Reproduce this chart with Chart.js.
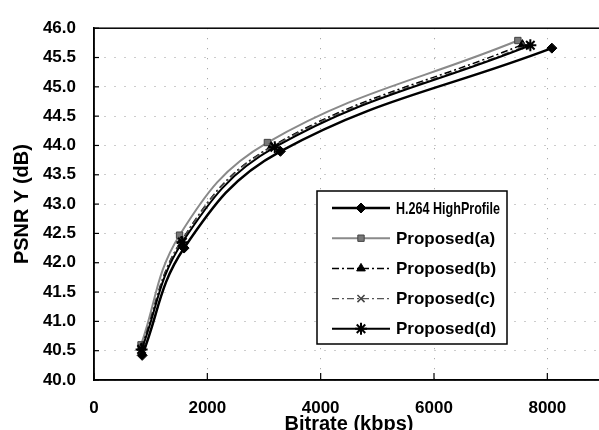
<!DOCTYPE html>
<html>
<head>
<meta charset="utf-8">
<script src="https://cdn.jsdelivr.net/npm/chart.js@4/dist/chart.umd.min.js"></script>
<style>
  html, body { margin: 0; padding: 0; background: #fff; overflow: hidden; }
  #wrap { width: 599px; height: 430px; overflow: hidden; }
</style>
</head>
<body>
<div id="wrap"><canvas id="chart" width="612" height="436"></canvas></div>
<script>
var seriesNames = ['H.264 HighProfile', 'Proposed(a)', 'Proposed(b)', 'Proposed(c)', 'Proposed(d)'];
var xTickValues = [0, 2000, 4000, 6000, 8000];

var bitrateH264 = [850, 1590, 3290, 8080];
var psnrH264 = [40.42, 42.25, 43.90, 45.66];

var bitrateA = [830, 1510, 3060, 7480];
var psnrA = [40.60, 42.47, 44.05, 45.79];

var bitrateB = [835, 1540, 3130, 7560];
var psnrB = [40.55, 42.37, 43.98, 45.72];

var bitrateC = [840, 1550, 3150, 7620];
var psnrC = [40.55, 42.38, 43.98, 45.70];

var bitrateD = [840, 1560, 3190, 7700];
var psnrD = [40.52, 42.35, 43.97, 45.71];

var FONT = "'Liberation Sans', Arial, sans-serif";

function toPoints(xs, ys) {
    return xs.map(function (x, i) { return { x: x, y: ys[i] }; });
}

var styles = [
    { color: '#000', width: 2.5, dash: [], point: 'rectRot', radius: 5, bg: '#000', pb: '#000', pw: 1 },
    { color: '#8a8a8a', width: 2, dash: [], point: 'rect', radius: 4.5, bg: '#777', pb: '#444', pw: 1 },
    { color: '#000', width: 1.5, dash: [7, 3, 2, 3], point: 'triangle', radius: 5, bg: '#000', pb: '#000', pw: 1 },
    { color: '#555', width: 1.2, dash: [7, 3, 2, 3], point: 'crossRot', radius: 5, bg: '#555', pb: '#444', pw: 1.5 },
    { color: '#000', width: 2, dash: [], point: 'star', radius: 6, bg: '#000', pb: '#000', pw: 2 }
];

var seriesData = [
    toPoints(bitrateH264, psnrH264),
    toPoints(bitrateA, psnrA),
    toPoints(bitrateB, psnrB),
    toPoints(bitrateC, psnrC),
    toPoints(bitrateD, psnrD)
];

var datasets = seriesNames.map(function (name, i) {
    var s = styles[i];
    return {
        label: name,
        data: seriesData[i],
        showLine: true,
        tension: 0.4,
        borderColor: s.color,
        borderWidth: s.width,
        borderDash: s.dash,
        pointStyle: s.point,
        pointRadius: s.radius,
        pointBackgroundColor: s.bg,
        pointBorderColor: s.pb,
        pointBorderWidth: s.pw,
        order: 5 - i
    };
});

// frame, inward tick marks and the boxed legend
var framePlugin = {
    id: 'frame',
    afterDraw: function (chart) {
        var ctx = chart.ctx, a = chart.chartArea;
        var xs = chart.scales.x, ys = chart.scales.y;
        ctx.save();
        ctx.strokeStyle = '#000';
        ctx.lineWidth = 1.5;
        ctx.strokeRect(a.left, a.top, a.right - a.left, a.bottom - a.top);
        ctx.lineWidth = 1.2;
        ys.ticks.forEach(function (t) {
            var py = ys.getPixelForValue(t.value);
            ctx.beginPath(); ctx.moveTo(a.left, py); ctx.lineTo(a.left + 5, py); ctx.stroke();
        });
        xs.ticks.forEach(function (t) {
            var px = xs.getPixelForValue(t.value);
            ctx.beginPath(); ctx.moveTo(px, a.bottom); ctx.lineTo(px, a.bottom - 7); ctx.stroke();
        });

        // legend
        var lx = 317, ly = 191, lw = 190, lh = 153;
        ctx.fillStyle = '#fff';
        ctx.fillRect(lx, ly, lw, lh);
        ctx.lineWidth = 1.5;
        ctx.strokeStyle = '#000';
        ctx.strokeRect(lx, ly, lw, lh);
        ctx.font = 'bold 17px ' + FONT;
        ctx.textBaseline = 'middle';
        chart.data.datasets.forEach(function (ds, i) {
            var y = 208 + i * 30.2;
            ctx.save();
            ctx.strokeStyle = ds.borderColor;
            ctx.lineWidth = ds.borderWidth;
            ctx.setLineDash(ds.borderDash);
            ctx.beginPath(); ctx.moveTo(332, y); ctx.lineTo(390, y); ctx.stroke();
            ctx.setLineDash([]);
            if (Chart.helpers && Chart.helpers.drawPoint) {
                ctx.fillStyle = ds.pointBackgroundColor;
                ctx.strokeStyle = ds.pointBorderColor;
                ctx.lineWidth = ds.pointBorderWidth;
                Chart.helpers.drawPoint(ctx, { pointStyle: ds.pointStyle, radius: ds.pointRadius, rotation: 0, borderWidth: ds.pointBorderWidth }, 361, y);
            }
            ctx.restore();
            ctx.fillStyle = '#000';
            ctx.fillText(ds.label, 396, y + 1, i === 0 ? 104 : 106);
        });
        ctx.restore();
    }
};

var chart = new Chart(document.getElementById('chart'), {
    type: 'scatter',
    data: { datasets: datasets },
    options: {
        responsive: false,
        animation: false,
        layout: { padding: { top: 18, left: 0, right: 4, bottom: 0 } },
        plugins: {
            legend: { display: false },
            tooltip: { enabled: false }
        },
        scales: {
            x: {
                type: 'linear',
                min: 0,
                max: 9000,
                afterFit: function (scale) { scale.height = 56; },
                afterBuildTicks: function (scale) {
                    scale.ticks = xTickValues.map(function (v) { return { value: v }; });
                },
                ticks: {
                    padding: 18,
                    color: '#000',
                    font: { family: FONT, size: 17, weight: 'bold' },
                    maxRotation: 0,
                    autoSkip: false,
                    callback: function (v) { return String(v); }
                },
                grid: { color: '#999', lineWidth: 1, drawTicks: false },
                border: { color: '#000', width: 1.5, dash: [1, 9] },
                title: {
                    display: true,
                    text: 'Bitrate (kbps)',
                    color: '#000',
                    font: { family: FONT, size: 20, weight: 'bold' },
                    padding: { top: 0, bottom: 0 }
                }
            },
            y: {
                min: 40,
                max: 46,
                afterFit: function (scale) { scale.width = 94; },
                ticks: {
                    stepSize: 0.5,
                    padding: 18,
                    color: '#000',
                    font: { family: FONT, size: 17, weight: 'bold' },
                    callback: function (v) { return Number(v).toFixed(1); }
                },
                grid: { color: '#999', lineWidth: 1, drawTicks: false },
                border: { color: '#000', width: 1.5, dash: [1, 9] },
                title: {
                    display: true,
                    text: 'PSNR Y (dB)',
                    color: '#000',
                    font: { family: FONT, size: 20, weight: 'bold' },
                    padding: { top: 10, bottom: 0 }
                }
            }
        }
    },
    plugins: [framePlugin]
});
</script>
</body>
</html>
